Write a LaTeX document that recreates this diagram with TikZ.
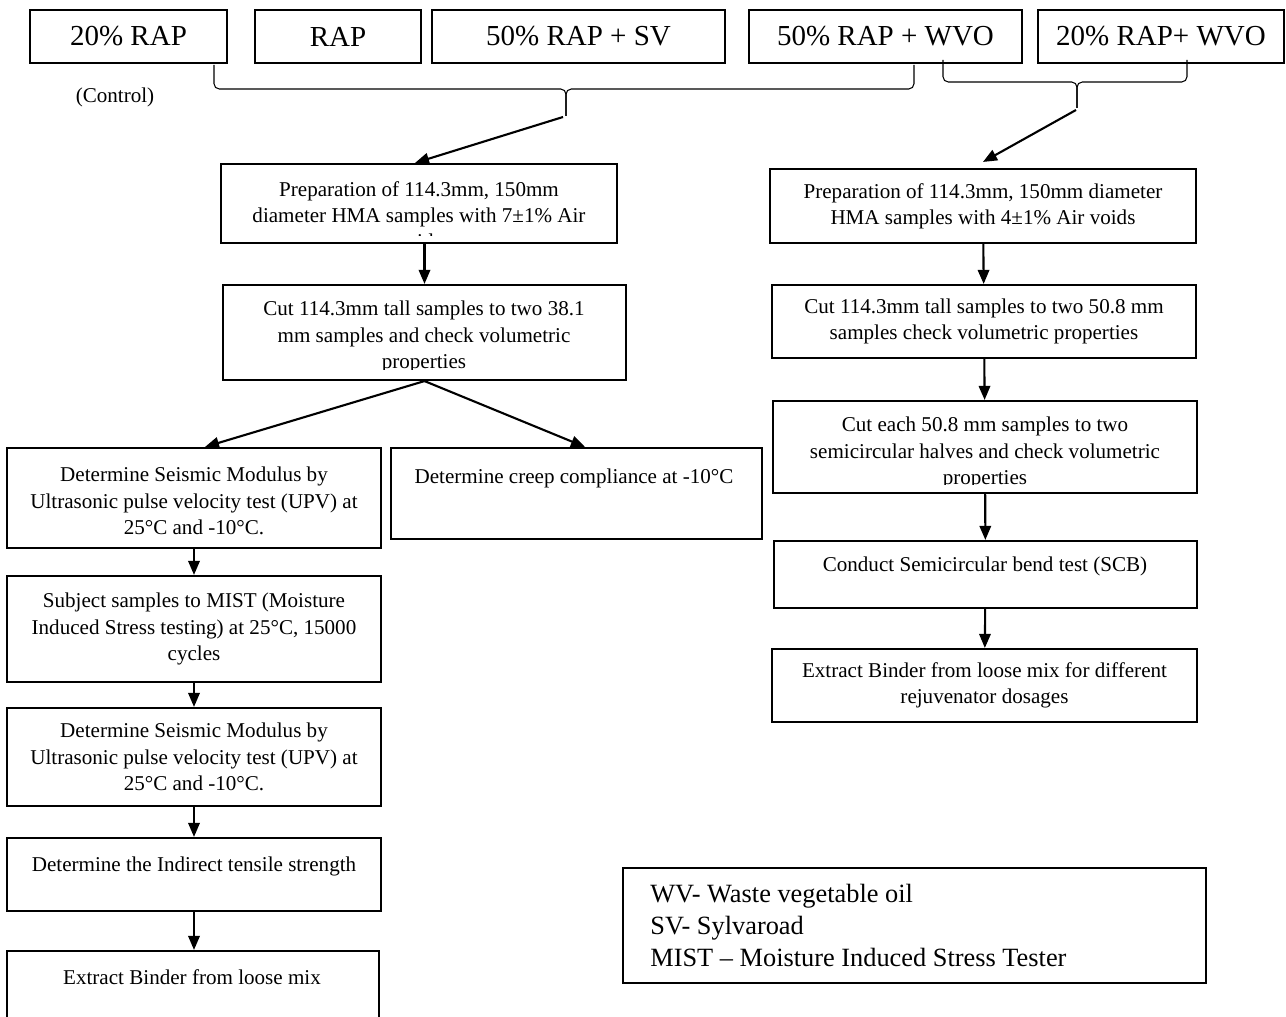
\documentclass[tikz,border=0pt]{standalone}
\usepackage{fontspec}
\setmainfont{Liberation Serif}
\usetikzlibrary{arrows.meta,fit,positioning}

\begin{document}
\begin{tikzpicture}[x=0.02cm,y=-0.02cm,
  box node/.style={draw,line width=1.2pt,inner sep=0pt},
  top text/.style={inner sep=0pt,font=\fontsize{16.5}{20}\selectfont},
  step text/.style={align=center,inner sep=0pt,font=\fontsize{12}{15}\selectfont},
  flow/.style={-{Triangle[length=8pt,width=6.5pt]},line width=1.2pt},
  brace line/.style={line width=0.6pt,rounded corners=3pt}]

  \useasboundingbox (0,0) rectangle (1286,1017);
  \clip (0,0) rectangle (1286,1017);

  % mixes
  \node[box node,fit={(30,10) (227,63)}] (rap20) {};
  \node[top text] (rap20t) at (rap20) {20\% RAP};
  \node[box node,fit={(255,10) (421,63)}] (rap) {};
  \node[top text] (rapt) at (rap) {RAP};
  \node[box node,fit={(432,10) (725,63)}] (rapsv) {};
  \node[top text] (rapsvt) at (rapsv) {50\% RAP + SV};
  \node[box node,fit={(749,10) (1022,63)}] (rapwvo50) {};
  \node[top text] (rapwvo50t) at (rapwvo50) {50\% RAP + WVO};
  \node[box node,fit={(1038,10) (1284,63)}] (rapwvo20) {};
  \node[top text] (rapwvo20t) at (rapwvo20) {20\% RAP+ WVO};
  \node[font=\fontsize{12}{14}\selectfont] (ctrl) at (115,97) {(Control)};

  % braces
  \draw[brace line] (214,65) -- (214,89) -- (566,89) -- (566,116);
  \draw[brace line] (914,65) -- (914,89) -- (566,89) -- (566,116);
  \draw[brace line] (943,60) -- (943,82) -- (1077,82) -- (1077,108);
  \draw[brace line] (1187,60) -- (1187,82) -- (1077,82) -- (1077,108);
  \coordinate (tipL) at (563,117);
  \coordinate (tipR) at (1076,110);

  % left branch
  \node[box node,fit={(221,164) (617,243)}] (prep7) {};
  \begin{scope}
    \clip (221,164) rectangle (617,236);
    \node[step text,anchor=north] (prep7t) at (419,181)
      {Preparation of 114.3mm, 150mm\\diameter HMA samples with 7±1\% Air\\voids};
  \end{scope}
  \node[box node,fit={(223,285) (626,380)}] (cut38) {};
  \begin{scope}
    \clip (223,285) rectangle (626,369);
    \node[step text,anchor=north] (cut38t) at (424,301)
      {Cut 114.3mm tall samples to two 38.1\\mm samples and check volumetric\\properties};
  \end{scope}

  \node[box node,fit={(7,448) (381,548)}] (seis1) {};
  \node[step text,anchor=north] (seis1t) at (194,467)
    {Determine Seismic Modulus by\\Ultrasonic pulse velocity test (UPV) at\\25°C and -10°C.};
  \node[box node,fit={(391,448) (762,539)}] (creep) {};
  \node[step text,anchor=north] (creept) at (574,469) {Determine creep compliance at -10°C};

  \node[box node,fit={(7,576) (381,682)}] (mist) {};
  \node[step text] (mistt) at (mist)
    {Subject samples to MIST (Moisture\\Induced Stress testing) at 25°C, 15000\\cycles};
  \node[box node,fit={(7,708) (381,806)}] (seis2) {};
  \node[step text] (seis2t) at (seis2)
    {Determine Seismic Modulus by\\Ultrasonic pulse velocity test (UPV) at\\25°C and -10°C.};
  \node[box node,fit={(7,838) (381,911)}] (its) {};
  \node[step text,anchor=north] (itst) at (194,857) {Determine the Indirect tensile strength};
  \node[box node,fit={(7,951) (379,1040)}] (bind1) {};
  \node[step text,anchor=north] (bind1t) at (192,969) {Extract Binder from loose mix};

  % right branch
  \node[box node,fit={(770,169) (1196,243)}] (prep4) {};
  \node[step text] (prep4t) at (prep4)
    {Preparation of 114.3mm, 150mm diameter\\HMA samples with 4±1\% Air voids};
  \node[box node,fit={(772,285) (1196,358)}] (cut50) {};
  \node[step text] (cut50t) at (cut50)
    {Cut 114.3mm tall samples to two 50.8 mm\\samples check volumetric properties};
  \node[box node,fit={(773,401) (1197,493)}] (halves) {};
  \begin{scope}
    \clip (773,401) rectangle (1197,484);
    \node[step text,anchor=north] (halvest) at (985,417)
      {Cut each 50.8 mm samples to two\\semicircular halves and check volumetric\\properties};
  \end{scope}
  \node[box node,fit={(774,541) (1197,608)}] (scb) {};
  \node[step text,anchor=north] (scbt) at (985,557) {Conduct Semicircular bend test (SCB)};
  \node[box node,fit={(772,649) (1197,722)}] (bind2) {};
  \node[step text] (bind2t) at (bind2)
    {Extract Binder from loose mix for different\\rejuvenator dosages};

  % legend
  \node[box node,fit={(623,868) (1206,983)}] (legend) {};
  \node[anchor=north west,align=left,inner sep=0pt,font=\fontsize{15}{18.2}\selectfont] (legendt) at (650,884)
    {WV- Waste vegetable oil\\SV- Sylvaroad\\MIST – Moisture Induced Stress Tester};

  % arrows
  \draw[flow] (tipL) -- ([xshift=-0.08cm]prep7.north);
  \draw[flow] (tipR) -- ([yshift=0.12cm]prep4.north);
  \draw[flow] (prep7.south -| cut38.north) -- (cut38.north);
  \draw[flow] (cut38.south) -- ([xshift=0.22cm]seis1.north);
  \draw[flow] (cut38.south) -- ([xshift=0.17cm]creep.north);
  \draw[flow] (seis1) -- (mist);
  \draw[flow] (mist) -- (seis2);
  \draw[flow] (seis2) -- (its);
  \draw[flow] (its) -- (bind1.north -| its.south);
  \draw[flow] (prep4) -- (cut50);
  \draw[flow] (cut50) -- (halves);
  \draw[flow] (halves) -- (scb);
  \draw[flow] (scb) -- (bind2);
\end{tikzpicture}
\end{document}
